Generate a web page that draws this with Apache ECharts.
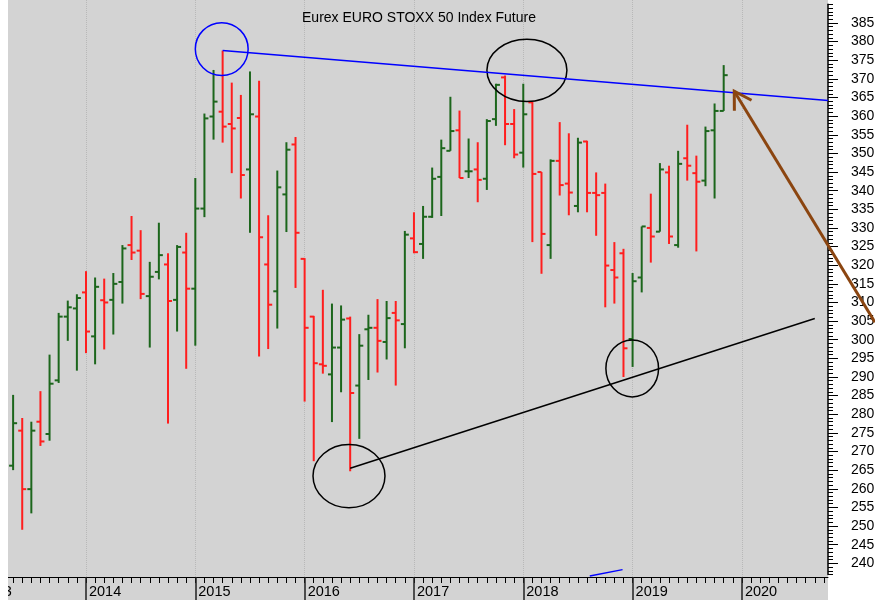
<!DOCTYPE html>
<html>
<head>
<meta charset="utf-8">
<title>Eurex EURO STOXX 50 Index Future</title>
<script src="https://cdn.jsdelivr.net/npm/echarts@6/dist/echarts.min.js"></script>
<style>
  html, body { margin: 0; padding: 0; background: #fff; }
  #chart { width: 875px; height: 600px; }
</style>
</head>
<body>
<div id="chart"></div>
<script>
// monthly bars, month index 0 = Jan 2013, first bar = May 2013
var firstMonth = 4;
var opens  = [2662, 2756, 2599, 2780, 2747, 2891, 3062, 3084, 3127, 3009, 3106, 3107, 3155,
              3254, 3239, 3117, 3182, 3202, 3107, 3234, 3137, 3352, 3599, 3612, 3579, 3595,
              3457, 3599, 3202, 3130, 3390, 3524, 3217, 3062, 2934, 2907, 2979, 3057, 2877,
              3028, 3032, 2994, 3072, 3042, 3272, 3257, 3330, 3437, 3507, 3562, 3452, 3457,
              3432, 3592, 3704, 3579, 3502, 3637, 3450, 3254, 3480, 3419, 3359, 3532, 3394,
              3394, 3187, 3232, 3002, 3167, 3300, 3290, 3449, 3254, 3487, 3447, 3427, 3562, 3614];
var highs  = [2852, 2790, 2780, 2862, 2960, 3072, 3105, 3122, 3184, 3167, 3164, 3179, 3254,
              3332, 3294, 3209, 3314, 3232, 3254, 3287, 3434, 3607, 3724, 3776, 3690, 3657,
              3720, 3695, 3334, 3454, 3530, 3544, 3219, 3064, 3134, 3097, 3092, 3062, 3015,
              3067, 3109, 3104, 3104, 3292, 3342, 3359, 3462, 3537, 3652, 3615, 3540, 3530,
              3592, 3687, 3709, 3619, 3687, 3640, 3450, 3484, 3584, 3554, 3542, 3534, 3449,
              3419, 3262, 3244, 3179, 3304, 3392, 3474, 3467, 3507, 3577, 3494, 3572, 3634, 3737];
var lows   = [2650, 2490, 2534, 2715, 2729, 2884, 2997, 2917, 2964, 2934, 2974, 3014, 3097,
              3214, 3109, 2979, 3162, 2775, 3022, 2922, 2984, 3329, 3537, 3529, 3447, 3379,
              3287, 2955, 2975, 3030, 3289, 3139, 2834, 2674, 2909, 2779, 2859, 2647, 2734,
              2892, 2912, 2947, 2877, 2977, 3232, 3217, 3327, 3332, 3507, 3434, 3434, 3369,
              3402, 3574, 3522, 3487, 3462, 3262, 3177, 3217, 3387, 3334, 3342, 3342, 3279,
              3087, 3097, 2900, 2927, 3127, 3207, 3290, 3257, 3247, 3427, 3237, 3412, 3379, 3614];
var closes = [2776, 2599, 2756, 2727, 2882, 3062, 3087, 3112, 3022, 3142, 3100, 3150, 3245,
              3234, 3123, 3169, 3227, 3104, 3249, 3137, 3352, 3594, 3639, 3572, 3567, 3442,
              3605, 3275, 3094, 3409, 3510, 3287, 3032, 2937, 2930, 2979, 3054, 2857, 2984,
              3032, 2997, 3058, 3052, 3282, 3235, 3330, 3432, 3514, 3560, 3434, 3452, 3429,
              3587, 3684, 3579, 3497, 3605, 3445, 3284, 3480, 3415, 3395, 3529, 3394, 3388,
              3199, 3167, 2977, 3157, 3304, 3277, 3457, 3277, 3472, 3467, 3424, 3560, 3614, 3710];
var yearLabels = ['2013', '2014', '2015', '2016', '2017', '2018', '2019', '2020'];

// drawn annotations, [month, price] points
var blueTrend = [[27, 3776], [93.45, 3642]];
var blackTrend = [[41, 2655], [92, 3057]];
var blueStub = [[67.3, 2366], [70.9, 2383]];
// [month, price, radius in months, radius in points]
var blueRings = [[26.9, 3780, 2.9, 71]];
var blackRings = [[60.4, 3723, 4.39, 83.5], [40.87, 2634, 3.95, 85], [71.96, 2923, 2.89, 76.5]];
// [tail month, tail price, tip month, tip price]
var arrows = [[98.6, 3047, 83.16, 3667]];

var UP = '#1c661c', DOWN = '#ff1e1e', BROWN = '#8b4510';
var FONT = '"Liberation Sans", Arial, sans-serif';

// layout: month 0 sits left of the canvas, plot ends at x=828
var X0 = -23.33, XEND = 828, XMAX = 93.45;
var monthPx = (XEND - X0) / XMAX;
function rightAt(m) { return 875 - (X0 + m * monthPx); }

var chart = echarts.init(document.getElementById('chart'));

var ohlc = opens.map(function (o, i) {
    return [firstMonth + i, o, closes[i], lows[i], highs[i]];
});

function drawBar(params, api) {
    var i = params.dataIndex;
    var prev = i > 0 ? closes[i - 1] : opens[i];
    var col = api.value(2) >= prev ? UP : DOWN;
    var m = api.value(0);
    var hi = api.coord([m, api.value(4)]);
    var lo = api.coord([m, api.value(3)]);
    var op = api.coord([m, api.value(1)]);
    var cl = api.coord([m, api.value(2)]);
    var st = { stroke: col, lineWidth: 2 };
    return {
        type: 'group',
        children: [
            { type: 'line', shape: { x1: hi[0], y1: hi[1], x2: lo[0], y2: lo[1] }, style: st },
            { type: 'line', shape: { x1: op[0] - 4, y1: op[1], x2: op[0], y2: op[1] }, style: st },
            { type: 'line', shape: { x1: cl[0], y1: cl[1], x2: cl[0] + 4, y2: cl[1] }, style: st }
        ]
    };
}

function ringDrawer(color) {
    return function (params, api) {
        var c = api.coord([api.value(0), api.value(1)]);
        var s = api.size([api.value(2), api.value(3)]);
        return {
            type: 'ellipse',
            shape: { cx: c[0], cy: c[1], rx: s[0], ry: s[1] },
            style: { fill: 'none', stroke: color, lineWidth: 1.5 }
        };
    };
}

function drawArrow(params, api) {
    var tail = api.coord([api.value(0), api.value(1)]);
    var tip = api.coord([api.value(2), api.value(3)]);
    var ang = Math.atan2(tail[1] - tip[1], tail[0] - tip[0]);
    var len = 19.5, spread = 31 * Math.PI / 180;
    var b1 = [tip[0] + len * Math.cos(ang - spread), tip[1] + len * Math.sin(ang - spread)];
    var b2 = [tip[0] + len * Math.cos(ang + spread), tip[1] + len * Math.sin(ang + spread)];
    return {
        type: 'group',
        children: [
            { type: 'line', shape: { x1: tail[0], y1: tail[1], x2: tip[0], y2: tip[1] },
              style: { stroke: BROWN, lineWidth: 3 } },
            { type: 'polyline', shape: { points: [b1, tip, b2] },
              style: { stroke: BROWN, lineWidth: 3, fill: 'none' } }
        ]
    };
}

var hiddenY = { show: false, min: 0, max: 1 };
function grid(top, bottom, right) {
    return { left: X0, right: right, top: top, bottom: bottom, containLabel: false, outerBoundsMode: 'none' };
}

var option = {
    animation: false,
    backgroundColor: '#fff',
    textStyle: { fontFamily: FONT },
    graphic: [
        { type: 'rect', z: -100, shape: { x: 8, y: 0, width: 820, height: 600 }, style: { fill: '#d3d3d3' } },
        { type: 'rect', z: 100, shape: { x: 0, y: 0, width: 8, height: 600 }, style: { fill: '#fff' } },
        { type: 'text', z: 100, x: 419, y: 18.5,
          style: { text: 'Eurex EURO STOXX 50 Index Future', fill: '#000', fontSize: 14, fontFamily: FONT,
                   align: 'center', verticalAlign: 'middle' } }
    ],
    grid: [
        grid(23, 36.7, 47),            // bars + price labels
        grid(4.37, 25.52, 47),         // minor price ticks + axis line
        grid(0, 23, 47),               // x axis line
        grid(0, 23, rightAt(93)),      // monthly ticks
        grid(0, 23, rightAt(84))       // years
    ],
    xAxis: [
        { gridIndex: 0, type: 'value', min: 0, max: XMAX, show: false },
        { gridIndex: 1, type: 'value', min: 0, max: XMAX, show: false },
        { gridIndex: 2, type: 'value', min: 0, max: XMAX,
          axisLine: { show: true, onZero: false, lineStyle: { color: '#000', width: 1 } },
          axisTick: { show: false }, axisLabel: { show: false }, splitLine: { show: false } },
        { gridIndex: 3, type: 'value', min: 0, max: 93, interval: 1,
          axisLine: { show: false, onZero: false },
          axisTick: { show: true, length: 6, lineStyle: { color: '#000', width: 1 } },
          axisLabel: { show: false }, splitLine: { show: false } },
        { gridIndex: 4, type: 'value', min: 0, max: 84, interval: 12,
          axisLine: { show: false, onZero: false },
          axisTick: { show: true, length: 23, lineStyle: { color: '#222', width: 1.5 } },
          axisLabel: {
              show: true, margin: 7, align: 'left', padding: [0, 0, 0, 3],
              color: '#000', fontSize: 14.5, fontFamily: FONT,
              formatter: function (v) { return yearLabels[Math.round(v / 12)] || ''; }
          },
          splitLine: { show: true, lineStyle: { color: '#b8b8b8', type: 'dotted', width: 1 } } }
    ],
    yAxis: [
        { gridIndex: 0, type: 'value', position: 'right', min: 2400, max: 3850, interval: 50,
          axisLine: { show: false, onZero: false },
          axisTick: { show: true, length: 10, lineStyle: { color: '#000', width: 1 } },
          axisLabel: { show: true, margin: 23, color: '#000', fontSize: 14, fontFamily: FONT,
                       formatter: function (v) { return String(v / 10); } },
          splitLine: { show: false } },
        { gridIndex: 1, type: 'value', position: 'right', min: 2370, max: 3900, interval: 10,
          axisLine: { show: true, onZero: false, lineStyle: { color: '#000', width: 1.5 } },
          axisTick: { show: true, length: 5, lineStyle: { color: '#000', width: 1 } },
          axisLabel: { show: false }, splitLine: { show: false } },
        Object.assign({ gridIndex: 2 }, hiddenY),
        Object.assign({ gridIndex: 3 }, hiddenY),
        Object.assign({ gridIndex: 4 }, hiddenY)
    ],
    series: [
        { type: 'custom', name: 'OHLC', xAxisIndex: 0, yAxisIndex: 0, renderItem: drawBar,
          data: ohlc, clip: false, silent: true, z: 3 },
        { type: 'line', xAxisIndex: 0, yAxisIndex: 0, data: blueTrend, symbol: 'none', clip: false,
          silent: true, lineStyle: { color: '#0000ff', width: 1.5 }, z: 4 },
        { type: 'line', xAxisIndex: 0, yAxisIndex: 0, data: blueStub, symbol: 'none', clip: false,
          silent: true, lineStyle: { color: '#0000ff', width: 1.5 }, z: 4 },
        { type: 'line', xAxisIndex: 0, yAxisIndex: 0, data: blackTrend, symbol: 'none', clip: false,
          silent: true, lineStyle: { color: '#000', width: 1.5 }, z: 4 },
        { type: 'custom', xAxisIndex: 0, yAxisIndex: 0, renderItem: ringDrawer('#0000ff'),
          data: blueRings, clip: false, silent: true, z: 4 },
        { type: 'custom', xAxisIndex: 0, yAxisIndex: 0, renderItem: ringDrawer('#000'),
          data: blackRings, clip: false, silent: true, z: 4 },
        { type: 'custom', xAxisIndex: 0, yAxisIndex: 0, renderItem: drawArrow,
          data: arrows, clip: false, silent: true, z: 5 }
    ]
};

chart.setOption(option);
</script>
</body>
</html>
